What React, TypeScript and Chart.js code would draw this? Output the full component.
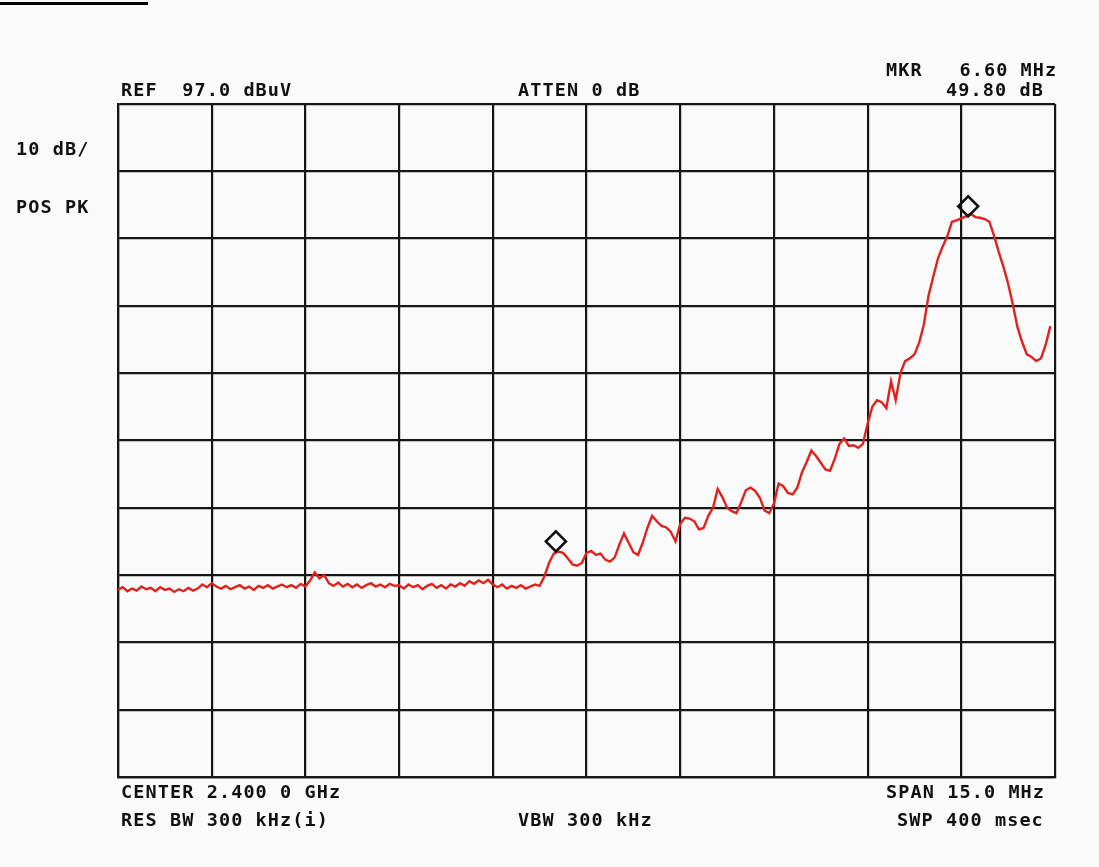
import React, { useEffect, useRef } from "react";
import { Chart, registerables } from "chart.js";

Chart.register(...registerables);

// ---- Instrument settings (as printed on the plot) ----
const REF_LEVEL_DBUV = 97.0;
const DB_PER_DIV = 10;
const DIVISIONS = 10;
const SPAN_MHZ = 15.0;

// ---- Sweep grid: frequency offset from the 2.4000 GHz centre, in MHz ----
const SWEEP_START_MHZ = -7.5;
const SWEEP_STEP_MHZ = 0.075;

// ---- Trace levels in dBuV, one per sweep point ----
const TRACE_DBUV = [
  // -7.5 .. -6.0 MHz
  24.8, 25.2, 24.6, 25.0, 24.7, 25.3, 24.9, 25.1, 24.6, 25.2,
  24.8, 25.0, 24.5, 24.9, 24.6, 25.1, 24.7, 25.0, 25.6, 25.2, 25.8,
  // -5.9 .. -4.5 MHz
  25.3, 25.0, 25.4, 24.9, 25.2, 25.5, 25.0, 25.3, 24.8, 25.4,
  25.1, 25.5, 25.0, 25.3, 25.6, 25.2, 25.5, 25.1, 25.7, 25.3,
  // small bump
  26.2, 27.4, 26.5, 27.0, 25.8,
  // -4.0 .. -3.0 MHz
  25.4, 25.9, 25.3, 25.7, 25.2, 25.6, 25.1, 25.5, 25.8, 25.3,
  25.6, 25.2, 25.7, 25.4, 25.5,
  // -2.9 .. -1.5 MHz
  25.0, 25.6, 25.2, 25.5, 24.9, 25.4, 25.7, 25.1, 25.5, 25.0,
  25.6, 25.3, 25.8, 25.4, 26.1, 25.7, 26.2, 25.8, 26.3, 25.6,
  // -1.4 .. -0.75 MHz
  25.2, 25.6, 25.0, 25.4, 25.1, 25.5, 25.0, 25.3, 25.6, 25.4,
  // rise at the first marker
  26.8, 28.8, 30.2, 30.5, 30.3, 29.5, 28.6, 28.4, 28.8, 30.3,
  30.6, 30.0, 30.2, 29.3, 29.0, 29.6, 31.5, 33.2, 31.8, 30.4,
  30.0, 31.8, 34.0, 35.8, 35.0, 34.3, 34.1, 33.4, 32.0, 34.6,
  35.5, 35.4, 35.0, 33.8, 34.0, 35.8, 37.0, 39.8, 38.6, 37.0,
  36.5, 36.2, 37.8, 39.6, 40.0, 39.5, 38.5, 36.6, 36.2, 37.6,
  40.6, 40.2, 39.2, 39.0, 40.0, 42.3, 43.8, 45.5, 44.7, 43.7,
  42.7, 42.5, 44.3, 46.5, 47.3, 46.2, 46.3, 45.9, 46.5, 49.5,
  52.0, 53.0, 52.7, 51.8, 55.8, 53.0, 57.0, 58.8, 59.2, 59.8,
  61.5, 64.2, 68.5, 71.3, 74.0, 75.8, 77.3, 79.5, 79.7, 80.0,
  80.3, 80.7, 80.2, 80.1, 79.9, 79.5, 77.4, 75.0, 72.8, 70.3,
  67.2, 63.8, 61.6, 59.8, 59.4, 58.8, 59.2, 61.2, 64.0,
];

// ---- Markers (frequency offset in MHz, level in dBuV) ----
const MARKER_MHZ = [-0.49, 6.11];
const MARKER_DBUV = [32.0, 81.8];

// ---- Annotation texts ----
const TEXT_REF = "REF  97.0 dBuV";
const TEXT_ATTEN = "ATTEN 0 dB";
const TEXT_MKR_FREQ = "MKR   6.60 MHz";
const TEXT_MKR_DELTA = "49.80 dB";
const TEXT_SCALE = "10 dB/";
const TEXT_DETECTOR = "POS PK";
const TEXT_CENTER = "CENTER 2.400 0 GHz";
const TEXT_SPAN = "SPAN 15.0 MHz";
const TEXT_RBW = "RES BW 300 kHz(i)";
const TEXT_VBW = "VBW 300 kHz";
const TEXT_SWP = "SWP 400 msec";

const W = 1099;
const H = 867;
const INK = "#161616";
const TRACE_RED = "#e0221c";
const FONT_PX = 18.5;

function Label(props: { x: number; base: number; text: string }) {
  return (
    <div
      style={{
        position: "absolute",
        left: props.x,
        top: props.base + 1.5 - 0.846 * FONT_PX,
        fontFamily: '"DejaVu Sans Mono", monospace',
        fontWeight: 700,
        fontSize: FONT_PX,
        lineHeight: FONT_PX + "px",
        letterSpacing: "1.1px",
        whiteSpace: "pre",
        color: "#111",
      }}
    >
      {props.text}
    </div>
  );
}

export default function App() {
  const canvasRef = useRef<HTMLCanvasElement | null>(null);

  useEffect(() => {
    const canvas = canvasRef.current;
    if (!canvas) return;

    const trace = TRACE_DBUV.map((v, i) => ({
      x: SWEEP_START_MHZ + i * SWEEP_STEP_MHZ,
      y: v,
    }));
    const markers = MARKER_MHZ.map((f, i) => ({ x: f, y: MARKER_DBUV[i] }));

    const bottom = REF_LEVEL_DBUV - DB_PER_DIV * DIVISIONS;

    const chart = new Chart(canvas, {
      type: "line",
      data: {
        datasets: [
          {
            type: "scatter",
            label: "Markers",
            data: markers,
            pointStyle: "rectRot",
            pointRadius: 10,
            pointBorderWidth: 2.6,
            pointBorderColor: "#111",
            pointBackgroundColor: "rgba(0,0,0,0)",
            showLine: false,
          } as any,
          {
            label: "Trace",
            data: trace,
            borderColor: TRACE_RED,
            borderWidth: 2.4,
            pointRadius: 0,
            tension: 0,
            fill: false,
          },
        ],
      },
      options: {
        animation: false,
        responsive: false,
        maintainAspectRatio: false,
        devicePixelRatio: 1,
        layout: { padding: { left: 118, top: 104, right: 44, bottom: 90 } },
        plugins: {
          legend: { display: false },
          tooltip: { enabled: false },
          title: { display: false },
        },
        scales: {
          x: {
            type: "linear",
            min: -SPAN_MHZ / 2,
            max: SPAN_MHZ / 2,
            ticks: { display: false, stepSize: SPAN_MHZ / DIVISIONS },
            grid: { color: INK, lineWidth: 2.2, drawTicks: false },
            border: { display: true, color: INK, width: 2.2 },
          },
          y: {
            type: "linear",
            min: bottom,
            max: REF_LEVEL_DBUV,
            ticks: { display: false, stepSize: DB_PER_DIV },
            grid: { color: INK, lineWidth: 2.2, drawTicks: false },
            border: { display: true, color: INK, width: 2.2 },
          },
        },
      },
    });

    return () => chart.destroy();
  }, []);

  return (
    <div
      style={{
        position: "fixed",
        left: 0,
        top: 0,
        width: W,
        height: H,
        background: "#fafafb",
        overflow: "hidden",
      }}
    >
      <div
        style={{
          position: "absolute",
          left: 0,
          top: 2,
          width: 148,
          height: 3,
          background: "#000",
        }}
      />
      <canvas
        ref={canvasRef}
        width={W}
        height={H}
        style={{ position: "absolute", left: 0, top: 0, width: W, height: H }}
      />
      <Label x={121} base={95} text={TEXT_REF} />
      <Label x={518} base={95} text={TEXT_ATTEN} />
      <Label x={886} base={75} text={TEXT_MKR_FREQ} />
      <Label x={946} base={95} text={TEXT_MKR_DELTA} />
      <Label x={16} base={154} text={TEXT_SCALE} />
      <Label x={16} base={212} text={TEXT_DETECTOR} />
      <Label x={121} base={797} text={TEXT_CENTER} />
      <Label x={886} base={797} text={TEXT_SPAN} />
      <Label x={121} base={825} text={TEXT_RBW} />
      <Label x={518} base={825} text={TEXT_VBW} />
      <Label x={897} base={825} text={TEXT_SWP} />
    </div>
  );
}
